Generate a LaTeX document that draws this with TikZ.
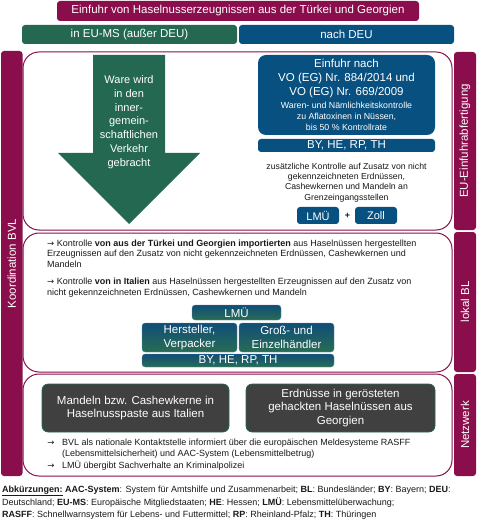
\documentclass[tikz,border=0pt]{standalone}
\usepackage{fontspec}
\setmainfont{Liberation Sans}
\newfontfamily\dv{DejaVu Sans}
\definecolor{maroon}{RGB}{138,14,75}
\definecolor{dgreen}{RGB}{36,104,82}
\definecolor{dblue}{RGB}{8,80,128}
\definecolor{dgray}{RGB}{64,64,64}
\definecolor{gtop}{RGB}{16,78,120}
\definecolor{gbot}{RGB}{40,108,84}
\definecolor{txt}{RGB}{25,25,25}
\newcommand{\fs}[2]{\fontsize{#1}{#2}\selectfont}
\newcommand{\arr}{{\dv\fontsize{8.5}{9}\selectfont →}}
\begin{document}
\begin{tikzpicture}[x=1pt,y=-1pt,
  cbox/.style={rounded corners=3pt, text=white, inner sep=0pt, align=center},
  panel/.style={draw=maroon, line width=1pt, rounded corners=16pt, fill=white, inner sep=0pt},
  sidebar/.style={fill=maroon, rounded corners=3pt, inner sep=0pt, minimum width=21.5pt},
  sidetext/.style={text=white, rotate=90, font=\fs{11.5}{14}},
  gradbox/.style={cbox, top color=gtop, bottom color=gbot, draw=gtop!60!white, line width=0.3pt},
  graybox/.style={cbox, fill=dgray, draw=dgreen, line width=0.6pt, rounded corners=6pt, font=\fs{11.5}{13.5}},
  small/.style={text=txt, inner sep=0pt, font=\fs{9}{10.6}}
]
\useasboundingbox (0,0) rectangle (486,526);
\fill[white] (0,0) rectangle (486,526);

% top boxes
\node[cbox, fill=maroon, minimum width=362pt, minimum height=20pt, font=\fs{11.5}{14}] (title) at (238,11) {Einfuhr von Haselnusserzeugnissen aus der Türkei und Georgien};
\node[cbox, fill=dgreen, minimum width=215pt, minimum height=19pt, font=\fs{11.5}{14}] (eums) at (129.5,34.5) {in EU-MS (außer DEU)};
\node[cbox, fill=dblue, minimum width=215pt, minimum height=19pt, font=\fs{11.5}{14}] (deu) at (346.5,34.5) {nach DEU};

% panels
\node[panel, minimum width=429pt, minimum height=178pt] (p1) at (237.5,141) {};
\node[panel, minimum width=429pt, minimum height=139pt] (p2) at (237.5,302.5) {};
\node[panel, minimum width=429pt, minimum height=102pt] (p3) at (237.5,425) {};

% side bars
\node[sidebar, minimum height=425pt] (lbar) at (11.75,263.5) {};
\node[sidetext] (ltext) at (lbar.center) {Koordination BVL};
\node[sidebar, minimum width=22pt, minimum height=178pt] (r1) at (465,141) {};
\node[sidetext] (r1t) at (r1.center) {EU-Einfuhrabfertigung};
\node[sidebar, minimum width=22pt, minimum height=140pt] (r2) at (465,302) {};
\node[sidetext] (r2t) at (r2.center) {lokal BL};
\node[sidebar, minimum width=22pt, minimum height=102pt] (r3) at (465,425) {};
\node[sidetext] (r3t) at (r3.center) {Netzwerk};

% big arrow
\fill[dgreen] (93,55) -- (165,55) -- (165,153) -- (200,153) -- (129,224) -- (58,153) -- (93,153) -- cycle;
\node[text=white, align=center, inner sep=0pt, font=\fs{11}{13.8}] (arrtext) at (129,122) {Ware wird\\in den\\inner-\\gemein-\\schaftlichen\\Verkehr\\gebracht};

% blue box
\node[cbox, fill=dblue, rounded corners=8pt, minimum width=177pt, minimum height=80pt] (vo) at (346.5,95) {};
\node[text=white, align=center, inner sep=0pt, font=\fs{11.5}{14}] (votext) at (346.5,79) {Einfuhr nach\\VO (EG) Nr. 884/2014 und\\VO (EG) Nr. 669/2009};
\node[text=white, align=center, inner sep=0pt, font=\fs{8.8}{11}] (vosmall) at (346.5,116.5) {Waren- und Nämlichkeitskontrolle\\zu Aflatoxinen in Nüssen,\\bis 50 \% Kontrollrate};
\node[cbox, fill=dblue, minimum width=177pt, minimum height=13pt, font=\fs{11.5}{13}] (bl1) at (346.5,145.5) {BY, HE, RP, TH};
\node[text=txt, inner sep=0pt, align=center, font=\fs{8.7}{10.2}] (zus) at (346.5,182.5) {zusätzliche Kontrolle auf Zusatz von nicht\\gekennzeichneten Erdnüssen,\\Cashewkernen und Mandeln an\\Grenzeingangsstellen};
\node[cbox, fill=dblue, minimum width=42pt, minimum height=17pt, font=\fs{11}{13}] (lmu1) at (318,215.5) {LMÜ};
\node[text=txt, inner sep=0pt, font=\fs{9}{11}\bfseries] (plus) at (347.5,216) {+};
\node[cbox, fill=dblue, minimum width=42pt, minimum height=17pt, font=\fs{11}{13}] (zoll) at (376,215.5) {Zoll};

% panel 2 texts
\node[small, anchor=west, align=left] (k1) at (47,253.5) {\arr{} Kontrolle \textbf{von aus der Türkei und Georgien importierten} aus Haselnüssen hergestellten\\Erzeugnissen auf den Zusatz von nicht gekennzeichneten Erdnüssen, Cashewkernen und\\Mandeln};
\node[small, anchor=west, align=left] (k2) at (47,287.5) {\arr{} Kontrolle \textbf{von in Italien} aus Haselnüssen hergestellten Erzeugnissen auf den Zusatz von\\nicht gekennzeichneten Erdnüssen, Cashewkernen und Mandeln};

\node[gradbox, minimum width=89pt, minimum height=15pt, font=\fs{11.5}{13}] (lmu2) at (236.5,312.5) {LMÜ};
\node[gradbox, minimum width=95pt, minimum height=29pt, font=\fs{11.5}{13.5}] (herst) at (189.5,337.5) {Hersteller,\\Verpacker};
\node[gradbox, minimum width=95pt, minimum height=29pt, font=\fs{11.5}{13.5}] (gross) at (286.5,337.5) {Groß- und\\Einzelhändler};
\node[gradbox, minimum width=192pt, minimum height=13pt, font=\fs{11.5}{13}] (bl2) at (238,360.5) {BY, HE, RP, TH};

% panel 3
\node[graybox, minimum width=187pt, minimum height=48pt] (mand) at (135.5,408) {Mandeln bzw. Cashewkerne in\\Haselnusspaste aus Italien};
\node[graybox, minimum width=189pt, minimum height=48pt] (erd) at (340.5,408) {Erdnüsse in gerösteten\\gehackten Haselnüssen aus\\Georgien};
\node[small] (a1) at (51,443.5) {\arr};
\node[small, anchor=west, align=left] (b1) at (62,448.5) {BVL als nationale Kontaktstelle informiert über die europäischen Meldesysteme RASFF\\(Lebensmittelsicherheit) und AAC-System (Lebensmittelbetrug)};
\node[small] (a2) at (51,466) {\arr};
\node[small, anchor=west] (b2) at (62,466) {LMÜ übergibt Sachverhalte an Kriminalpolizei};

% abbreviations
\node[small, anchor=west] (ab1) at (2,491) {\underline{\textbf{Abkürzungen:}} \textbf{AAC-System}: System für Amtshilfe und Zusammenarbeit; \textbf{BL}: Bundesländer; \textbf{BY}: Bayern; \textbf{DEU}:};
\node[small, anchor=west] (ab2) at (2,502.5) {Deutschland; \textbf{EU-MS}: Europäische Mitgliedstaaten; \textbf{HE}: Hessen; \textbf{LMÜ}: Lebensmittelüberwachung;};
\node[small, anchor=west] (ab3) at (2,515) {\textbf{RASFF}: Schnellwarnsystem für Lebens- und Futtermittel; \textbf{RP}: Rheinland-Pfalz; \textbf{TH}: Thüringen};
\end{tikzpicture}
\end{document}
